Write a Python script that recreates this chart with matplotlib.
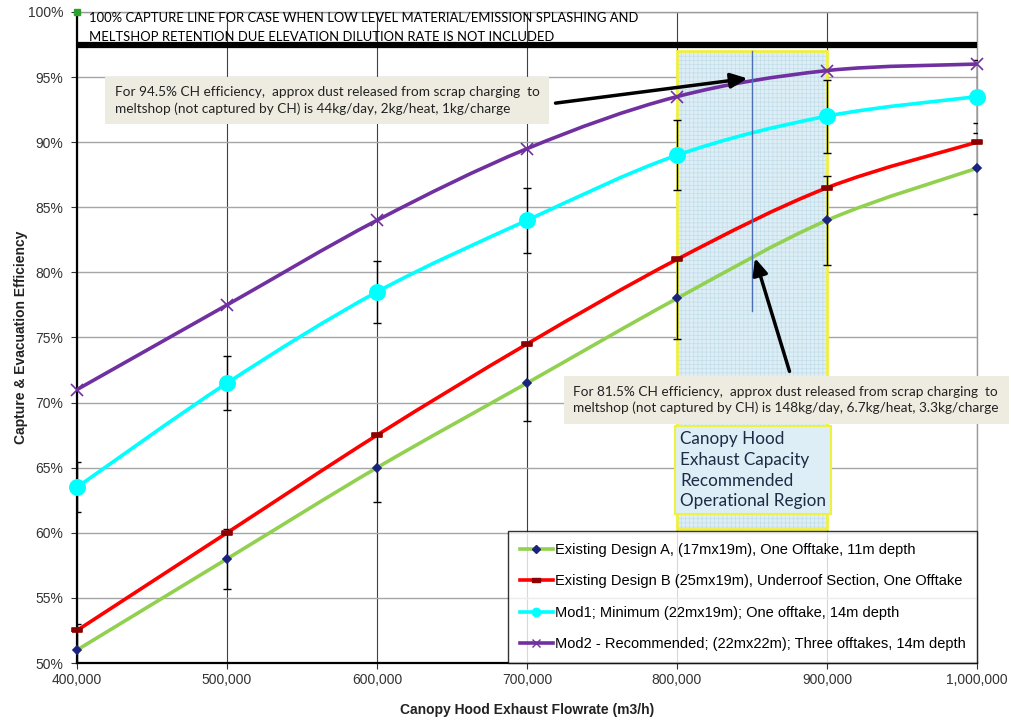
import matplotlib.pyplot as plt
import numpy as np
from matplotlib.lines import Line2D
from matplotlib.patches import PathPatch, Rectangle
from matplotlib.path import Path
from matplotlib.ticker import FuncFormatter


FLOWRATES = [400000, 500000, 600000, 700000, 800000, 900000, 1000000]

DESIGN_A = [51.0, 58.0, 65.0, 71.5, 78.0, 84.0, 88.0]
DESIGN_B = [52.5, 60.0, 67.5, 74.5, 81.0, 86.5, 90.0]
MOD1 = [63.5, 71.5, 78.5, 84.0, 89.0, 92.0, 93.5]
MOD2 = [71.0, 77.5, 84.0, 89.5, 93.5, 95.5, 96.0]

DESIGN_A_ERR = [2.0, 2.3, 2.6, 2.9, 3.1, 3.4, 3.5]
MOD1_ERR = [1.9, 2.1, 2.4, 2.5, 2.7, 2.8, 2.8]

LABELS = [
    "Existing Design A, (17mx19m), One Offtake, 11m depth",
    "Existing Design B (25mx19m), Underroof Section, One Offtake",
    "Mod1; Minimum (22mx19m); One offtake, 14m depth",
    "Mod2 - Recommended; (22mx22m); Three offtakes, 14m depth",
]

CAPTURE_LINE = 97.5
REGION_X = [800000, 900000]
REGION_Y = [60.3, 97.0]

TOP_NOTE = [
    "100% CAPTURE LINE FOR CASE WHEN LOW LEVEL MATERIAL/EMISSION SPLASHING AND",
    "MELTSHOP RETENTION DUE ELEVATION DILUTION RATE IS NOT INCLUDED",
]
NOTE_HIGH = (
    "For 94.5% CH efficiency,  approx dust released from scrap charging  to\n"
    "meltshop (not captured by CH) is 44kg/day, 2kg/heat, 1kg/charge"
)
NOTE_LOW = (
    "For 81.5% CH efficiency,  approx dust released from scrap charging  to\n"
    "meltshop (not captured by CH) is 148kg/day, 6.7kg/heat, 3.3kg/charge"
)
REGION_NOTE = "Canopy Hood\nExhaust Capacity\nRecommended\nOperational Region"

# flat rectangle marker used by Excel for design B
FLAT_BOX = [(-1.0, -0.5), (1.0, -0.5), (1.0, 0.5), (-1.0, 0.5), (-1.0, -0.5)]


def smooth_path(xs, ys, axes):
    # Excel-style smoothed line: cubic Bezier through the points,
    # built in display space so the curve looks right on screen
    pts = axes.transData.transform(np.column_stack([xs, ys]))
    verts = [pts[0]]
    codes = [Path.MOVETO]
    n = len(pts)
    for i in range(n - 1):
        p0 = pts[max(i - 1, 0)]
        p1 = pts[i]
        p2 = pts[i + 1]
        p3 = pts[min(i + 2, n - 1)]
        c1 = p1 + (p2 - p0) / 6.0
        c2 = p2 - (p3 - p1) / 6.0
        verts += [c1, c2, p2]
        codes += [Path.CURVE4] * 3
    verts = axes.transData.inverted().transform(np.array(verts))
    return Path(verts, codes)


def main() -> None:
    plt.rcParams["font.family"] = ["Liberation Sans", "DejaVu Sans"]
    plt.rcParams["hatch.linewidth"] = 0.5

    figure = plt.figure(figsize=(10.12, 7.22), dpi=100)
    axes = figure.add_axes([0.0761, 0.0817, 0.8893, 0.9017])

    axes.set_xlim(400000, 1000000)
    axes.set_ylim(50, 100)

    axes.set_xticks(FLOWRATES)
    axes.set_yticks(np.arange(50, 101, 5))
    axes.xaxis.set_major_formatter(FuncFormatter(lambda v, _: f"{int(v):,}"))
    axes.yaxis.set_major_formatter(FuncFormatter(lambda v, _: f"{int(v)}%"))
    axes.tick_params(labelsize=10, length=4, colors="#333333")
    axes.tick_params(axis="y", pad=6)

    axes.grid(axis="y", color="#a6a6a6", linewidth=1.0)
    axes.grid(axis="x", color="#404040", linewidth=0.8)
    axes.set_axisbelow(True)

    for side in ["left", "bottom"]:
        axes.spines[side].set_color("black")
        axes.spines[side].set_linewidth(1.6)
    for side in ["right", "top"]:
        axes.spines[side].set_color("#9a9a9a")
        axes.spines[side].set_linewidth(1.0)

    axes.set_xlabel(
        "Canopy Hood Exhaust Flowrate (m3/h)",
        fontsize=10,
        fontweight="bold",
        color="#222222",
        labelpad=11,
    )
    axes.set_ylabel(
        "Capture & Evacuation Efficiency",
        fontsize=10,
        fontweight="bold",
        color="#222222",
        labelpad=0,
    )

    # recommended operating region: textured fill, then yellow outline
    axes.add_patch(
        Rectangle(
            (REGION_X[0], REGION_Y[0]),
            REGION_X[1] - REGION_X[0],
            REGION_Y[1] - REGION_Y[0],
            facecolor="#ddeef6",
            edgecolor="#c3dde8",
            linewidth=0,
            hatch="++++",
            zorder=1,
        )
    )
    axes.add_patch(
        Rectangle(
            (REGION_X[0], REGION_Y[0]),
            REGION_X[1] - REGION_X[0],
            REGION_Y[1] - REGION_Y[0],
            facecolor="none",
            edgecolor="#f0f040",
            linewidth=2.0,
            zorder=2,
        )
    )

    axes.axhline(CAPTURE_LINE, color="black", linewidth=4.5, zorder=6)

    for line_text, y_value in zip(TOP_NOTE, [99.55, 98.1]):
        axes.text(
            408000,
            y_value,
            line_text,
            fontsize=9.4,
            family=["Lato", "DejaVu Sans"],
            va="center",
            ha="left",
            zorder=7,
        )

    axes.plot(
        [400000],
        [100],
        marker="s",
        color="#2ca02c",
        markersize=5,
        clip_on=False,
        zorder=8,
    )

    series = [
        (DESIGN_A, "#92d050", "D", "#1a237e", 4.5),
        (DESIGN_B, "#ff0000", FLAT_BOX, "#8b0000", 7),
        (MOD1, "#00ffff", "o", "#00ffff", 11),
        (MOD2, "#7030a0", "x", "#7030a0", 9),
    ]

    axes.errorbar(
        FLOWRATES,
        DESIGN_A,
        yerr=DESIGN_A_ERR,
        fmt="none",
        ecolor="black",
        elinewidth=1.0,
        capsize=3,
        zorder=3,
    )
    axes.errorbar(
        FLOWRATES,
        MOD1,
        yerr=MOD1_ERR,
        fmt="none",
        ecolor="black",
        elinewidth=1.0,
        capsize=3,
        zorder=3,
    )

    handles = []
    for values, color, marker, marker_color, size in series:
        path = smooth_path(FLOWRATES, values, axes)
        axes.add_patch(
            PathPatch(path, fill=False, edgecolor=color, linewidth=2.6, zorder=4)
        )
        axes.plot(
            FLOWRATES,
            values,
            linestyle="none",
            marker=marker,
            markersize=size,
            markerfacecolor=marker_color,
            markeredgecolor=marker_color,
            markeredgewidth=1.2,
            clip_on=False,
            zorder=5,
        )
        handles.append(
            Line2D(
                [],
                [],
                color=color,
                linewidth=2.6,
                marker=marker,
                markersize=min(size, 6),
                markerfacecolor=marker_color,
                markeredgecolor=marker_color,
            )
        )

    axes.plot(
        [850000, 850000],
        [77.0, 97.0],
        color="#4a6fb5",
        linewidth=1.0,
        zorder=4,
    )

    box_style = dict(
        boxstyle="square,pad=0.7",
        facecolor="#eeece1",
        edgecolor="none",
    )

    axes.text(
        425000,
        93.2,
        NOTE_HIGH,
        fontsize=9.8,
        family=["Lato", "DejaVu Sans"],
        color="#222222",
        va="center",
        ha="left",
        linespacing=1.35,
        bbox=box_style,
        zorder=9,
    )
    axes.text(
        731000,
        70.2,
        NOTE_LOW,
        fontsize=9.8,
        family=["Lato", "DejaVu Sans"],
        color="#222222",
        va="center",
        ha="left",
        linespacing=1.35,
        bbox=box_style,
        zorder=9,
        clip_on=False,
    )

    arrow_style = dict(
        arrowstyle="-|>,head_length=1.0,head_width=0.45",
        color="black",
        linewidth=2.5,
        shrinkA=0,
        shrinkB=0,
    )
    axes.annotate(
        "",
        xy=(847000, 94.9),
        xytext=(719000, 93.0),
        arrowprops=arrow_style,
        zorder=10,
    )
    axes.annotate(
        "",
        xy=(852000, 81.1),
        xytext=(875000, 72.4),
        arrowprops=arrow_style,
        zorder=10,
    )

    axes.text(
        802000,
        64.8,
        REGION_NOTE,
        fontsize=12.3,
        family=["Lato", "DejaVu Sans"],
        color="#1f2a44",
        va="center",
        ha="left",
        linespacing=1.35,
        bbox=dict(
            boxstyle="square,pad=0.3",
            facecolor="#ddeef6",
            edgecolor="#f0f040",
            linewidth=1.5,
        ),
        zorder=8,
    )

    legend = axes.legend(
        handles,
        LABELS,
        loc="lower right",
        bbox_to_anchor=(1.0, 0.0),
        fontsize=10.5,
        frameon=True,
        fancybox=False,
        edgecolor="black",
        handlelength=2.3,
        handletextpad=0.1,
        labelspacing=1.2,
        borderpad=0.8,
        borderaxespad=0.0,
    )
    legend.get_frame().set_linewidth(1.0)
    legend.set_zorder(11)

    figure.savefig("out.png", dpi=100)
    plt.close(figure)


if __name__ == "__main__":
    main()
